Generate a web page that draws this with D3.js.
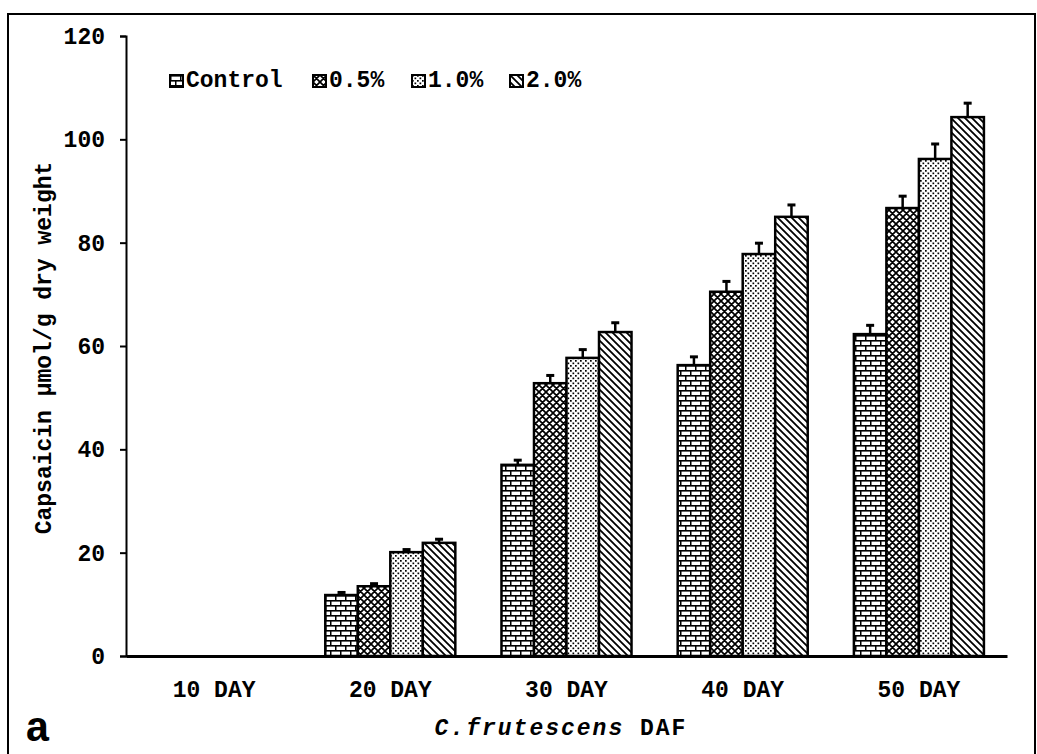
<!DOCTYPE html>
<html>
<head>
<meta charset="utf-8">
<script src="https://cdn.jsdelivr.net/npm/d3@7"></script>
<style>
  body { margin: 0; background: #fff; }
  text { font-family: "Liberation Mono", "Courier New", monospace; fill: #000; }
</style>
</head>
<body>
<div id="chart"></div>
<script>
"use strict";
// values (µmol/g dry weight)
const days = ["10 DAY", "20 DAY", "30 DAY", "40 DAY", "50 DAY"];
const seriesNames = ["Control", "0.5%", "1.0%", "2.0%"];
const controlVals = [0, 11.8, 37.0, 56.3, 62.3];
const conc05Vals  = [0, 13.5, 52.8, 70.5, 86.7];
const conc10Vals  = [0, 20.1, 57.7, 77.8, 96.2];
const conc20Vals  = [0, 21.9, 62.7, 85.0, 104.3];
const controlErr = [0, 0.5, 0.9, 1.6, 1.7];
const conc05Err  = [0, 0.5, 1.5, 2.0, 2.3];
const conc10Err  = [0, 0.5, 1.6, 2.1, 2.9];
const conc20Err  = [0, 0.7, 1.8, 2.3, 2.7];
const yTicks = [0, 20, 40, 60, 80, 100, 120];

const allVals = [controlVals, conc05Vals, conc10Vals, conc20Vals];
const allErr = [controlErr, conc05Err, conc10Err, conc20Err];
const patternIds = ["pBrick", "pCross", "pDots", "pDiag"];

let rows = [];
days.forEach(function (d, i) {
  seriesNames.forEach(function (s, j) {
    rows.push({ day: d, series: s, value: allVals[j][i], err: allErr[j][i], pat: patternIds[j] });
  });
});

const W = 1037, H = 754;
const svg = d3.select("#chart").append("svg").attr("width", W).attr("height", H);

// patterns
const defs = svg.append("defs");
let p = defs.append("pattern").attr("id", "pBrick").attr("patternUnits", "userSpaceOnUse")
  .attr("width", 10).attr("height", 10);
p.append("rect").attr("width", 10).attr("height", 10).attr("fill", "#fff");
p.append("rect").attr("x", 0).attr("y", 0).attr("width", 10).attr("height", 1.6).attr("fill", "#000");
p.append("rect").attr("x", 0).attr("y", 5).attr("width", 10).attr("height", 1.6).attr("fill", "#000");
p.append("rect").attr("x", 0).attr("y", 0).attr("width", 1.5).attr("height", 5).attr("fill", "#000");
p.append("rect").attr("x", 5).attr("y", 5).attr("width", 1.5).attr("height", 5).attr("fill", "#000");

p = defs.append("pattern").attr("id", "pCross").attr("patternUnits", "userSpaceOnUse")
  .attr("width", 7).attr("height", 7);
p.append("rect").attr("width", 7).attr("height", 7).attr("fill", "#fff");
p.append("path").attr("d", "M-1,-1L8,8M-1,6L1,8M6,-1L8,1M-1,8L8,-1M-1,1L1,-1M6,8L8,6")
  .attr("stroke", "#000").attr("stroke-width", 1.7);

p = defs.append("pattern").attr("id", "pDots").attr("patternUnits", "userSpaceOnUse")
  .attr("width", 5).attr("height", 5);
p.append("rect").attr("width", 5).attr("height", 5).attr("fill", "#fff");
p.append("rect").attr("x", 0).attr("y", 0).attr("width", 1.7).attr("height", 1.7).attr("fill", "#000");
p.append("rect").attr("x", 2.5).attr("y", 2.5).attr("width", 1.7).attr("height", 1.7).attr("fill", "#000");

p = defs.append("pattern").attr("id", "pDiag").attr("patternUnits", "userSpaceOnUse")
  .attr("width", 7).attr("height", 7);
p.append("rect").attr("width", 7).attr("height", 7).attr("fill", "#fff");
p.append("path").attr("d", "M-1,-1L8,8M-1,6L1,8M6,-1L8,1")
  .attr("stroke", "#000").attr("stroke-width", 1.8);

// frame around the whole figure
svg.append("rect").attr("x", 8).attr("y", 14).attr("width", 1027).attr("height", 760)
  .attr("fill", "none").attr("stroke", "#000").attr("stroke-width", 2);

const x = d3.scaleBand().domain(days).range([126, 1007]).paddingInner(0.262).paddingOuter(0.131);
const xs = d3.scaleBand().domain(seriesNames).range([0, x.bandwidth()]);
const y = d3.scaleLinear().domain([0, 120]).range([656, 36]);

// axes
const yAxis = svg.append("g").attr("transform", "translate(126,0)")
  .call(d3.axisLeft(y).tickValues(yTicks).tickSize(6).tickPadding(15));
yAxis.select(".domain").attr("stroke-width", 2);
yAxis.selectAll(".tick line").attr("stroke-width", 2);
yAxis.selectAll("text").attr("font-size", 23).attr("font-family", null).style("font-weight", "bold");

const xAxis = svg.append("g").attr("transform", "translate(0,656)")
  .call(d3.axisBottom(x).tickSize(0).tickSizeOuter(0).tickPadding(25));
xAxis.select(".domain").attr("stroke-width", 3);
xAxis.selectAll("text").attr("font-size", 23).attr("font-family", null).style("font-weight", "bold");

// bars
const bars = rows.filter(function (r) { return r.value > 0; });
svg.selectAll("rect.bar").data(bars).enter().append("rect")
  .attr("class", "bar")
  .attr("x", function (d) { return x(d.day) + xs(d.series); })
  .attr("y", function (d) { return y(d.value); })
  .attr("width", xs.bandwidth())
  .attr("height", function (d) { return y(0) - y(d.value); })
  .attr("fill", function (d) { return "url(#" + d.pat + ")"; })
  .attr("stroke", "#000").attr("stroke-width", 2.5);

// error bars (upper only)
const eb = svg.selectAll("g.err").data(bars).enter().append("g").attr("class", "err");
eb.append("line")
  .attr("x1", function (d) { return x(d.day) + xs(d.series) + xs.bandwidth() / 2; })
  .attr("x2", function (d) { return x(d.day) + xs(d.series) + xs.bandwidth() / 2; })
  .attr("y1", function (d) { return y(d.value); })
  .attr("y2", function (d) { return y(d.value + d.err); })
  .attr("stroke", "#000").attr("stroke-width", 2.5);
eb.append("line")
  .attr("x1", function (d) { return x(d.day) + xs(d.series) + xs.bandwidth() / 2 - 4; })
  .attr("x2", function (d) { return x(d.day) + xs(d.series) + xs.bandwidth() / 2 + 4; })
  .attr("y1", function (d) { return y(d.value + d.err); })
  .attr("y2", function (d) { return y(d.value + d.err); })
  .attr("stroke", "#000").attr("stroke-width", 3);

// legend
const legendX = [170, 313, 412, 510];
const leg = svg.selectAll("g.leg").data(seriesNames).enter().append("g").attr("class", "leg")
  .attr("transform", function (d, i) { return "translate(" + legendX[i] + ",75)"; });
leg.append("rect").attr("width", 13).attr("height", 12)
  .attr("fill", function (d, i) { return "url(#" + patternIds[i] + ")"; })
  .attr("stroke", "#000").attr("stroke-width", 2);
leg.append("text").attr("x", 16).attr("y", 12).attr("font-size", 23)
  .style("font-weight", "bold").text(function (d) { return d; });

// axis titles
svg.append("text").attr("transform", "translate(51,348) rotate(-90)")
  .attr("text-anchor", "middle").attr("font-size", 23).style("font-weight", "bold")
  .text("Capsaicin \u00b5mol/g dry weight");

const xt = svg.append("text").attr("x", 561).attr("y", 735).attr("text-anchor", "middle")
  .attr("font-size", 23).style("font-weight", "bold").style("letter-spacing", "2px");
xt.append("tspan").attr("font-style", "italic").text("C.frutescens");
xt.append("tspan").text(" DAF");

svg.append("text").attr("x", 25).attr("y", 741).attr("font-size", 42)
  .style("font-weight", "bold").text("a");
</script>
</body>
</html>
